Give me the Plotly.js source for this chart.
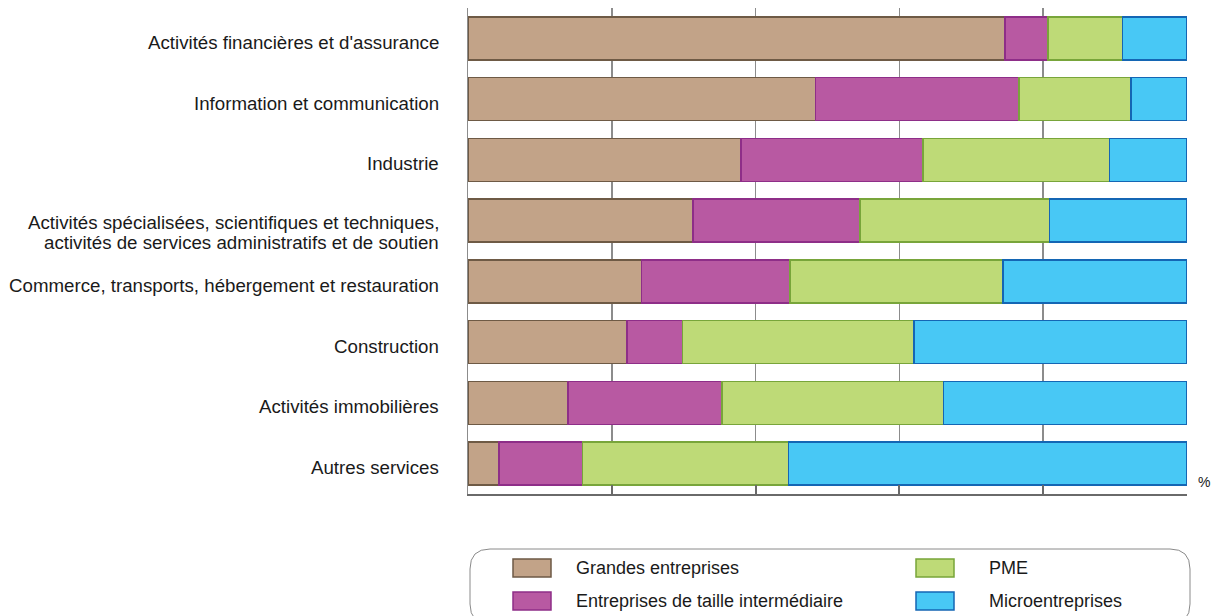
<!DOCTYPE html>
<html>
<head>
<meta charset="utf-8">
<script src="https://cdn.plot.ly/plotly-3.0.1.min.js"></script>
<style>html,body{margin:0;padding:0;background:#fff;}#chart{width:1212px;height:616px;}</style>
</head>
<body>
<div id="chart"></div>
<script>
var categories = [
  "Activités financières et d'assurance",
  "Information et communication",
  "Industrie",
  "Activités spécialisées, scientifiques et techniques, activités de services administratifs et de soutien",
  "Commerce, transports, hébergement et restauration",
  "Construction",
  "Activités immobilières",
  "Autres services"
];
// label lines as displayed (the long one wraps on two lines)
var categoryLabelLines = [
  ["Activités financières et d'assurance"],
  ["Information et communication"],
  ["Industrie"],
  ["Activités spécialisées, scientifiques et techniques,", "activités de services administratifs et de soutien"],
  ["Commerce, transports, hébergement et restauration"],
  ["Construction"],
  ["Activités immobilières"],
  ["Autres services"]
];
var seriesNames = ["Grandes entreprises", "Entreprises de taille intermédiaire", "PME", "Microentreprises"];
var grandes = [74.7, 48.3, 38.0, 31.3, 24.1, 22.1, 13.9, 4.3];
var eti     = [6.0, 28.3, 25.3, 23.2, 20.7, 7.7, 21.4, 11.6];
var pme     = [10.3, 15.6, 25.9, 26.4, 29.6, 32.2, 30.8, 28.7];
var micro   = [9.0, 7.8, 10.8, 19.1, 25.6, 38.0, 33.9, 55.4];
var xTicks = [0, 20, 40, 60, 80, 100];

var fills = ["#C2A388", "#B859A2", "#BEDA77", "#48C8F5"];
var borders = ["#6E5A45", "#8E2E88", "#78A53A", "#1466B4"];
var values = [grandes, eti, pme, micro];

var FONT = "Liberation Sans, Arial, sans-serif";

var traces = values.map(function(v, i) {
  return {
    type: "bar", orientation: "h",
    x: v, y: categories, name: seriesNames[i],
    marker: {color: fills[i], line: {color: borders[i], width: 1.5}},
    showlegend: false, hoverinfo: "x+name"
  };
});

// pixel helpers for plot area (left 468, right 1187, top 8, bottom 494)
var L = 468, R = 1187, T = 8, B = 494;
function px(x) { return (x - L) / (R - L); }
function py(y) { return (B - y) / (B - T); }

var shapes = [];
var annotations = [];

// category labels
categoryLabelLines.forEach(function(lines, i) {
  var shifts = lines.length === 1 ? [-4] : [-1.5, -21.5];
  lines.forEach(function(t, j) {
    annotations.push({xref: "paper", yref: "y", x: px(441), y: categories[i],
      xanchor: "right", yanchor: "middle", yshift: shifts[j], showarrow: false,
      text: t, font: {family: FONT, size: 18.7, color: "#1a1a1a"}});
  });
});

// rounded legend box
(function() {
  var x0 = 470, x1 = 1190, y0 = 549, y1 = 624, r = 20;
  var p = "M " + px(x0 + r) + "," + py(y0) +
    " L " + px(x1 - r) + "," + py(y0) +
    " Q " + px(x1) + "," + py(y0) + " " + px(x1) + "," + py(y0 + r) +
    " L " + px(x1) + "," + py(y1 - r) +
    " Q " + px(x1) + "," + py(y1) + " " + px(x1 - r) + "," + py(y1) +
    " L " + px(x0 + r) + "," + py(y1) +
    " Q " + px(x0) + "," + py(y1) + " " + px(x0) + "," + py(y1 - r) +
    " L " + px(x0) + "," + py(y0 + r) +
    " Q " + px(x0) + "," + py(y0) + " " + px(x0 + r) + "," + py(y0) + " Z";
  shapes.push({type: "path", xref: "paper", yref: "paper", path: p,
    line: {color: "#8a8a8a", width: 1}, fillcolor: "rgba(0,0,0,0)", layer: "below"});
})();

var legendPos = [
  {sx: 513, sy: 559, tx: 574, ty: 568},
  {sx: 513, sy: 592, tx: 574, ty: 601},
  {sx: 916, sy: 559, tx: 987, ty: 568},
  {sx: 916, sy: 592, tx: 987, ty: 601}
];
legendPos.forEach(function(p, i) {
  shapes.push({type: "rect", xref: "paper", yref: "paper",
    x0: px(p.sx), x1: px(p.sx + 38), y0: py(p.sy + 18), y1: py(p.sy),
    fillcolor: fills[i], line: {color: borders[i], width: 1.5}});
  annotations.push({xref: "paper", yref: "paper", x: px(p.tx), y: py(p.ty),
    xanchor: "left", yanchor: "middle", showarrow: false, text: seriesNames[i],
    font: {family: FONT, size: 18, color: "#1a1a1a"}});
});

annotations.push({xref: "paper", yref: "paper", x: px(1196), y: py(482),
  xanchor: "left", yanchor: "middle", showarrow: false, text: "%",
  font: {family: FONT, size: 14, color: "#1a1a1a"}});

var layout = {
  width: 1212, height: 616,
  margin: {l: L, r: 1212 - R, t: T, b: 616 - B, pad: 0},
  paper_bgcolor: "#fff", plot_bgcolor: "#fff",
  barmode: "stack", bargap: 0.29,
  font: {family: FONT, color: "#1a1a1a"},
  xaxis: {
    range: [0, 100], tickvals: xTicks, showticklabels: false,
    showgrid: true, gridcolor: "#8c8c8c", gridwidth: 1.5,
    showline: true, linecolor: "#6a6a6a", linewidth: 2,
    ticks: "inside", ticklen: 9, tickwidth: 2, tickcolor: "#6a6a6a",
    zeroline: false, fixedrange: true
  },
  yaxis: {
    autorange: "reversed", type: "category",
    showline: true, linecolor: "#8c8c8c", linewidth: 1.5,
    ticks: "", showticklabels: false,
    showgrid: false, zeroline: false, fixedrange: true
  },
  shapes: shapes,
  annotations: annotations,
  showlegend: false
};

Plotly.newPlot("chart", traces, layout, {displayModeBar: false, staticPlot: true});
</script>
</body>
</html>
